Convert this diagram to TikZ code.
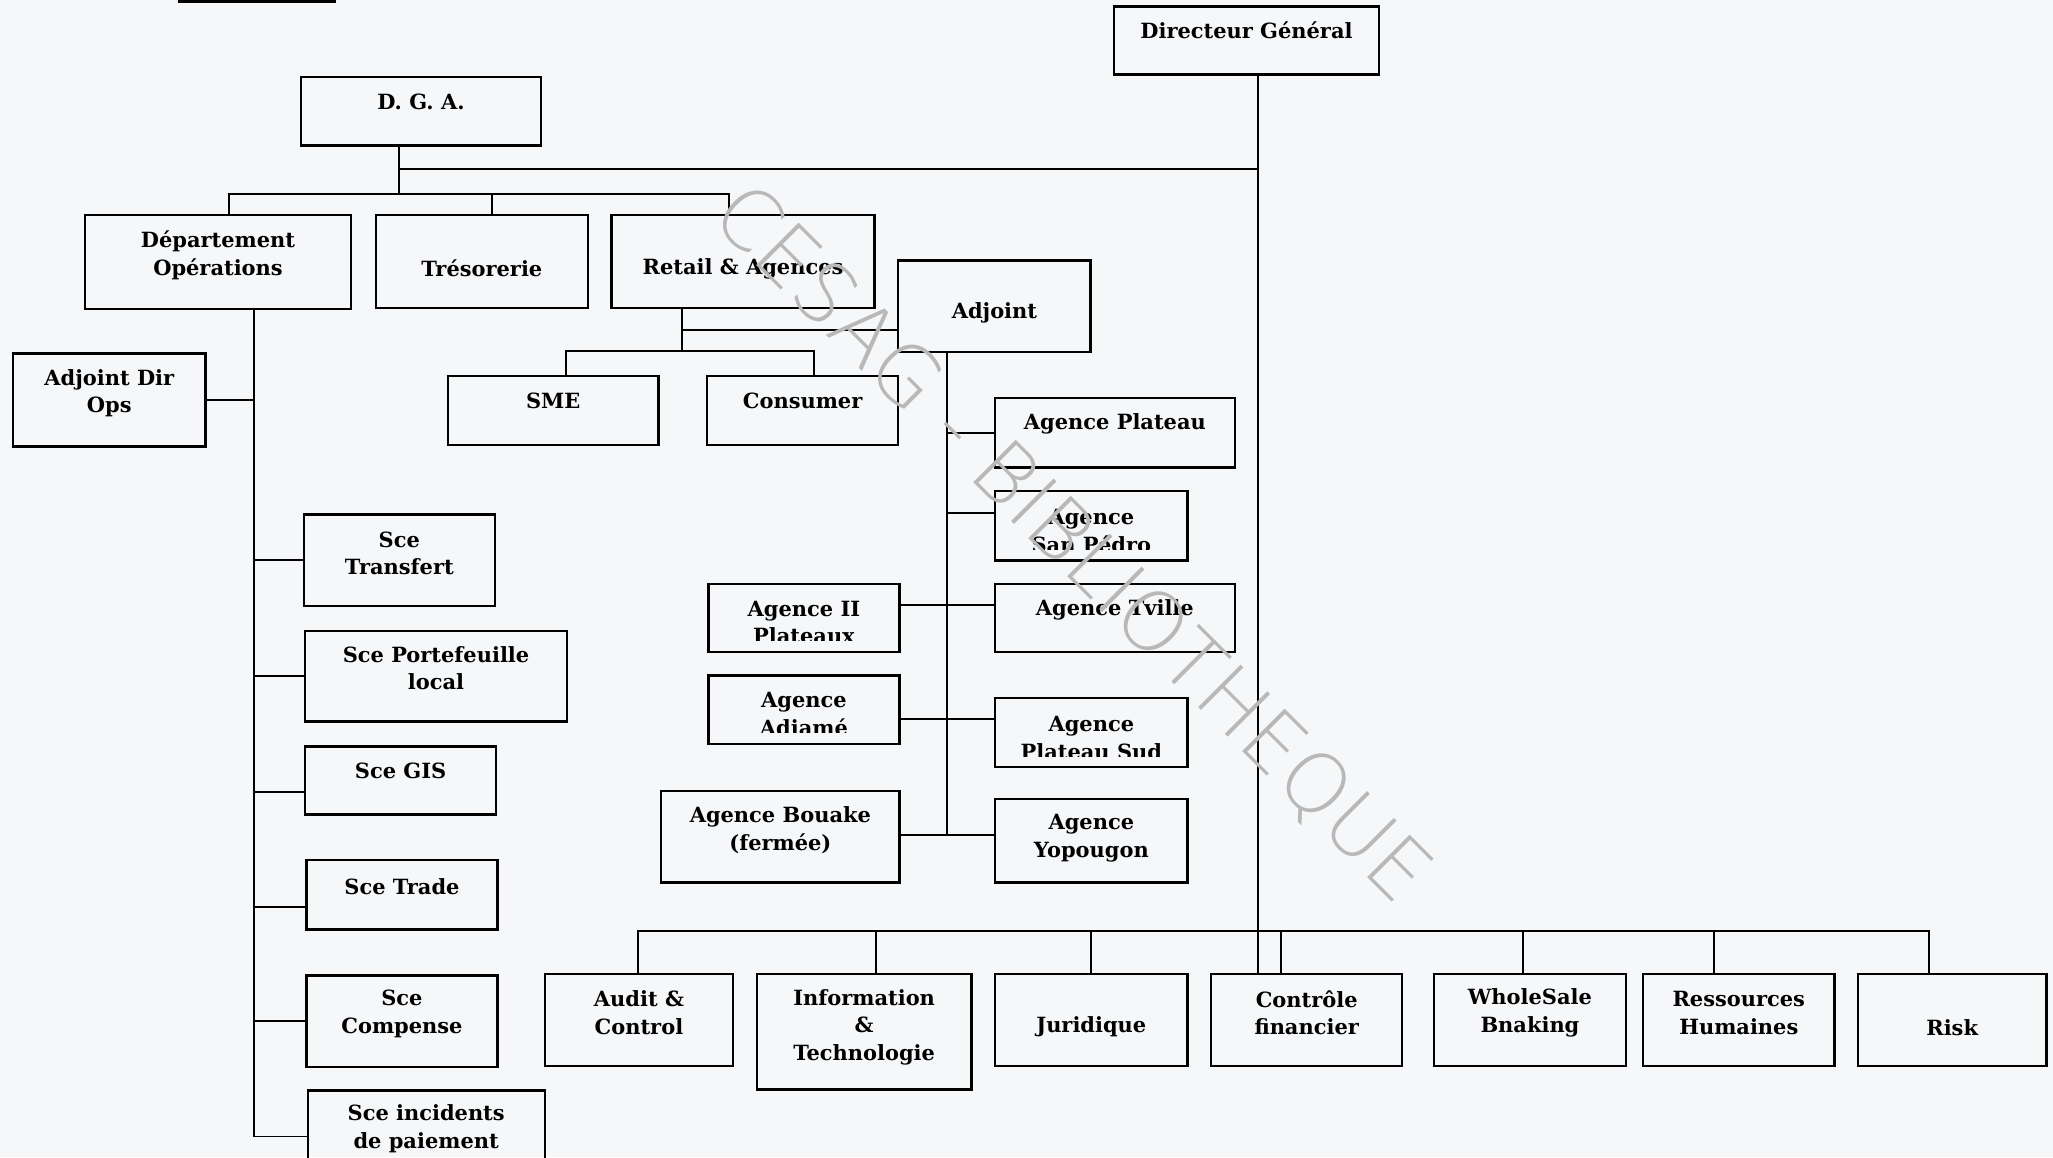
\documentclass[tikz,border=0pt]{standalone}
\usepackage{fontspec}
\setmainfont{DejaVu Serif}
\newfontfamily\wmfont{DejaVu Sans ExtraLight}
\definecolor{paper}{RGB}{246,247,249}
\begin{document}
\begin{tikzpicture}[
  x = 1pt, y = -1pt,
  box/.style = {draw, line width = 1.8pt, inner sep = 0pt},
  txt/.style = {font = \bfseries\fontsize{16}{21}\selectfont, align = center, inner sep = 0pt},
  link/.style = {line width = 1.5pt},
  wm/.style = {font = \wmfont\fontsize{63}{63}\selectfont, text = black!28, inner sep = 0pt}
  ]
  \fill[paper] (0,0) rectangle (1568,884);
  \useasboundingbox (0,0) rectangle (1568,884);
  \fill (136,0) rectangle (257,2);

  \node[box, minimum width = 202pt, minimum height = 52pt] (dg) at (952,31) {};
  \node[txt] (dg-t) at ([yshift=8]dg.center) {Directeur Général};
  \node[box, minimum width = 183pt, minimum height = 52pt] (dga) at (321.5,85) {};
  \node[txt] (dga-t) at ([yshift=7]dga.center) {D. G. A.};

  \node[box, minimum width = 203pt, minimum height = 72pt] (dops) at (166.5,200) {};
  \node[txt] (dops-t) at ([yshift=5]dops.center) {Département\\Opérations};
  \node[box, minimum width = 162pt, minimum height = 71pt] (treso) at (368,199.5) {};
  \node[txt] (treso-t) at ([yshift=-5.5]treso.center) {Trésorerie};
  \node[box, minimum width = 201pt, minimum height = 71pt] (retail) at (567.5,199.5) {};
  \node[txt] (retail-t) at ([yshift=-5.5]retail.center) {Retail \& Agences};
  \node[box, minimum width = 147pt, minimum height = 70pt] (adjoint) at (759.5,234) {};
  \node[txt] (adjoint-t) at ([yshift=-5]adjoint.center) {Adjoint};
  \node[box, minimum width = 147pt, minimum height = 71pt] (adjops) at (83.5,305.5) {};
  \node[txt] (adjops-t) at ([yshift=5]adjops.center) {Adjoint Dir\\Ops};
  \node[box, minimum width = 161pt, minimum height = 53pt] (sme) at (422.5,313.5) {};
  \node[txt] (sme-t) at ([yshift=7.5]sme.center) {SME};
  \node[box, minimum width = 146pt, minimum height = 53pt] (consumer) at (613,313.5) {};
  \node[txt] (consumer-t) at ([yshift=7.5]consumer.center) {Consumer};

  \node[box, minimum width = 183pt, minimum height = 53pt] (aplateau) at (851.5,330.5) {};
  \node[txt] (aplateau-t) at ([yshift=6.5]aplateau.center) {Agence Plateau};
  \node[box, minimum width = 147pt, minimum height = 53pt] (asanpedro) at (833.5,401.5) {};
  \begin{scope}
    \clip (asanpedro.north west) rectangle ([yshift=9.5]asanpedro.south east);
    \node[txt] (asanpedro-t) at ([yshift=-4]asanpedro.center) {Agence\\San Pédro};
  \end{scope}
  \node[box, minimum width = 146pt, minimum height = 52pt] (aii) at (614,472) {};
  \begin{scope}
    \clip (aii.north west) rectangle ([yshift=9.5]aii.south east);
    \node[txt] (aii-t) at ([yshift=-3.5]aii.center) {Agence II\\Plateaux};
  \end{scope}
  \node[box, minimum width = 183pt, minimum height = 52pt] (atville) at (851.5,472) {};
  \node[txt] (atville-t) at ([yshift=6]atville.center) {Agence Tville};
  \node[box, minimum width = 146pt, minimum height = 52pt] (aadjame) at (614,542) {};
  \begin{scope}
    \clip (aadjame.north west) rectangle ([yshift=9.5]aadjame.south east);
    \node[txt] (aadjame-t) at ([yshift=-3.5]aadjame.center) {Agence\\Adiamé};
  \end{scope}
  \node[box, minimum width = 147pt, minimum height = 53pt] (aplatsud) at (833.5,559.5) {};
  \begin{scope}
    \clip (aplatsud.north west) rectangle ([yshift=9.5]aplatsud.south east);
    \node[txt] (aplatsud-t) at ([yshift=-4]aplatsud.center) {Agence\\Plateau Sud};
  \end{scope}
  \node[box, minimum width = 182pt, minimum height = 70pt] (abouake) at (596,639) {};
  \node[txt] (abouake-t) at ([yshift=5]abouake.center) {Agence Bouake\\(fermée)};
  \node[box, minimum width = 147pt, minimum height = 64pt] (ayop) at (833.5,642) {};
  \node[txt] (ayop-t) at ([yshift=2]ayop.center) {Agence\\Yopougon};

  \node[box, minimum width = 146pt, minimum height = 70pt] (stransfert) at (305,428) {};
  \node[txt] (stransfert-t) at ([yshift=5.5]stransfert.center) {Sce\\Transfert};
  \node[box, minimum width = 200pt, minimum height = 69pt] (sporte) at (333,516.5) {};
  \node[txt] (sporte-t) at ([yshift=6]sporte.center) {Sce Portefeuille\\local};
  \node[box, minimum width = 146pt, minimum height = 52pt] (sgis) at (306,596) {};
  \node[txt] (sgis-t) at ([yshift=7]sgis.center) {Sce GIS};
  \node[box, minimum width = 146pt, minimum height = 53pt] (strade) at (307,683.5) {};
  \node[txt] (strade-t) at ([yshift=6.5]strade.center) {Sce Trade};
  \node[box, minimum width = 146pt, minimum height = 70pt] (scomp) at (307,780) {};
  \node[txt] (scomp-t) at ([yshift=5.5]scomp.center) {Sce\\Compense};
  \node[box, minimum width = 181pt, minimum height = 70pt] (sinc) at (325.5,868) {};
  \node[txt] (sinc-t) at ([yshift=6]sinc.center) {Sce incidents\\de paiement};

  \node[box, minimum width = 144pt, minimum height = 70pt] (audit) at (488,779) {};
  \node[txt] (audit-t) at ([yshift=5.5]audit.center) {Audit \&\\Control};
  \node[box, minimum width = 164pt, minimum height = 88pt] (info) at (660,788) {};
  \node[txt] (info-t) at ([yshift=3.5]info.center) {Information\\\&\\Technologie};
  \node[box, minimum width = 147pt, minimum height = 70pt] (jur) at (833.5,779) {};
  \node[txt] (jur-t) at ([yshift=-5]jur.center) {Juridique};
  \node[box, minimum width = 146pt, minimum height = 70pt] (controle) at (998,779) {};
  \node[txt] (controle-t) at ([yshift=5.5]controle.center) {Contrôle\\financier};
  \node[box, minimum width = 147pt, minimum height = 70pt] (wholesale) at (1168.5,779) {};
  \node[txt] (wholesale-t) at ([yshift=5.5]wholesale.center) {WholeSale\\Bnaking};
  \node[box, minimum width = 146pt, minimum height = 70pt] (rh) at (1328,779) {};
  \node[txt] (rh-t) at ([yshift=5.5]rh.center) {Ressources\\Humaines};
  \node[box, minimum width = 144pt, minimum height = 70pt] (risk) at (1491,779) {};
  \node[txt] (risk-t) at ([yshift=-6]risk.center) {Risk};

  \coordinate (j1) at (961,129);
  \coordinate (j2) at (305,129);
  \coordinate (j3) at (305,148);
  \coordinate (j4) at (521,252);
  \coordinate (j5) at (521,268);
  \coordinate (j6) at (723,638);
  \coordinate (j7) at (194,868);
  \coordinate (j8) at (961,711);

  \draw[link] (dg.south -| j1) -- (j1 |- controle.north);
  \draw[link] (dga.south -| j2) -- (j3);
  \draw[link] (j2) -- (j1);
  \draw[link] ([xshift=8.5]dops.north) |- (j3) -| ([xshift=-10.5]retail.north);
  \draw[link] ([xshift=8]treso.north) -- ([xshift=8]treso.north |- j3);

  \draw[link] (retail.south -| j4) -- (j5);
  \draw[link] (j4) -- (j4 -| adjoint.west);
  \draw[link] ([xshift=9.5]sme.north) |- (j5) -| ([xshift=9]consumer.north);

  \draw[link] (adjoint.south -| j6) -- (j6);
  \draw[link] (aplateau.west -| j6) -- (aplateau.west);
  \draw[link] ([yshift=9.5]asanpedro.west -| j6) -- ([yshift=9.5]asanpedro.west);
  \draw[link] ([yshift=10]aii.east) -- ([yshift=10]aii.east -| atville.west);
  \draw[link] ([yshift=-7]aadjame.east) -- ([yshift=-7]aadjame.east -| aplatsud.west);
  \draw[link] (abouake.east |- j6) -- (ayop.west |- j6);

  \draw[link] (dops.south -| j7) -- (j7) -- (sinc.west);
  \draw[link] (adjops.east) -- (adjops.east -| j7);
  \draw[link] (stransfert.west -| j7) -- (stransfert.west);
  \draw[link] (sporte.west -| j7) -- (sporte.west);
  \draw[link] ([yshift=-9]sgis.west -| j7) -- ([yshift=-9]sgis.west);
  \draw[link] ([yshift=-9.5]strade.west -| j7) -- ([yshift=-9.5]strade.west);
  \draw[link] (scomp.west -| j7) -- (scomp.west);

  \draw[link] ([xshift=-1]audit.north) |- (j8) -| ([xshift=-18]risk.north);
  \draw[link] ([xshift=9]info.north) -- ([xshift=9]info.north |- j8);
  \draw[link] (jur.north) -- (jur.north |- j8);
  \draw[link] ([xshift=-20]controle.north) -- ([xshift=-20]controle.north |- j8);
  \draw[link] ([xshift=-5.5]wholesale.north) -- ([xshift=-5.5]wholesale.north |- j8);
  \draw[link] ([xshift=-19]rh.north) -- ([xshift=-19]rh.north |- j8);

  \node[wm, rotate=-45] (wm) at (818,416) {CESAG - BIBLIOTHEQUE};
\end{tikzpicture}
\end{document}
